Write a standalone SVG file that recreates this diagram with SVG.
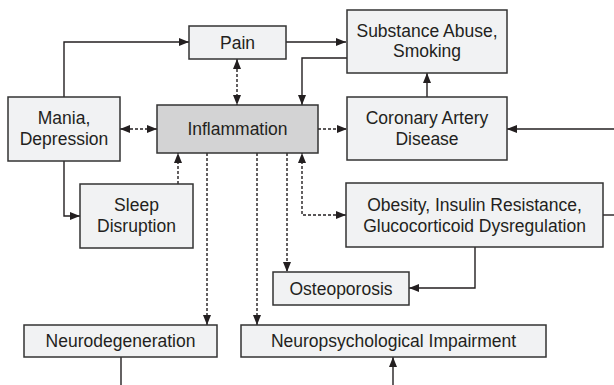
<svg xmlns="http://www.w3.org/2000/svg" width="614" height="385" viewBox="0 0 614 385">
<defs>
<marker id="ah" viewBox="0 0 10 8" refX="10" refY="4" markerWidth="10" markerHeight="8" markerUnits="userSpaceOnUse" orient="auto-start-reverse">
<path d="M0,0 L10,4 L0,8 Z" fill="#231f20"/>
</marker>
<style>
.box{fill:#f1f2f3;stroke:#333;stroke-width:1.5}
.hl{fill:#d3d3d4;stroke:#333;stroke-width:1.5}
text{font-family:"Liberation Sans",Arial,sans-serif;font-size:17.5px;fill:#231f20;text-anchor:middle}
.c{fill:none;stroke:#231f20;stroke-width:1.4}
.d{fill:none;stroke:#231f20;stroke-width:1.4;stroke-dasharray:3 2}
</style>
</defs>
<rect width="614" height="385" fill="#fff"/>
<g id="connectors">
<path class="c" d="M64,97 V42 H189" marker-end="url(#ah)"/>
<path class="c" d="M286,42 H346" marker-end="url(#ah)"/>
<path class="c" d="M347,58 H302 V105" marker-end="url(#ah)"/>
<path class="c" d="M427,97 V73" marker-end="url(#ah)"/>
<path class="c" d="M614,129 H507" marker-end="url(#ah)"/>
<path class="c" d="M64,161 V216 H80" marker-end="url(#ah)"/>
<path class="c" d="M603,215 H614"/>
<path class="c" d="M475,247 V288 H409" marker-end="url(#ah)"/>
<path class="c" d="M121,357 V385"/>
<path class="c" d="M393,385 V357" marker-end="url(#ah)"/>
<path class="d" d="M237,59 V105" marker-start="url(#ah)" marker-end="url(#ah)"/>
<path class="d" d="M120,129 H157" marker-start="url(#ah)" marker-end="url(#ah)"/>
<path class="d" d="M318,129 H347" marker-end="url(#ah)"/>
<path class="d" d="M178,184 V153" marker-end="url(#ah)"/>
<path class="d" d="M207,153 V325" marker-end="url(#ah)"/>
<path class="d" d="M257,153 V325" marker-end="url(#ah)"/>
<path class="d" d="M287,153 V272" marker-end="url(#ah)"/>
<path class="d" d="M346,215 H302 V153" marker-start="url(#ah)" marker-end="url(#ah)"/>
</g>
<g id="pain"><rect class="box" x="189" y="26" width="97" height="33"/><text x="237.5" y="48.5">Pain</text></g>
<g id="substance"><rect class="box" x="347" y="10" width="160" height="63"/><text x="427" y="36.5">Substance Abuse,</text><text x="427" y="57">Smoking</text></g>
<g id="mania"><rect class="box" x="8" y="97" width="112" height="64"/><text x="64" y="124">Mania,</text><text x="64" y="144.5">Depression</text></g>
<g id="inflammation"><rect class="hl" x="157" y="105" width="161" height="48"/><text x="237.5" y="135">Inflammation</text></g>
<g id="coronary"><rect class="box" x="347" y="97" width="160" height="63"/><text x="427" y="124">Coronary Artery</text><text x="427" y="144.5">Disease</text></g>
<g id="sleep"><rect class="box" x="80" y="184" width="113" height="64"/><text x="136.5" y="211">Sleep</text><text x="136.5" y="231.5">Disruption</text></g>
<g id="obesity"><rect class="box" x="346" y="183" width="257" height="64"/><text x="474.5" y="211">Obesity, Insulin Resistance,</text><text x="474.5" y="231.5">Glucocorticoid Dysregulation</text></g>
<g id="osteoporosis"><rect class="box" x="273" y="272" width="136" height="33"/><text x="341" y="294.5">Osteoporosis</text></g>
<g id="neurodegeneration"><rect class="box" x="24" y="325" width="193" height="32"/><text x="120.5" y="347">Neurodegeneration</text></g>
<g id="neuropsych"><rect class="box" x="241" y="325" width="305" height="32"/><text x="393.5" y="347">Neuropsychological Impairment</text></g>
</svg>
